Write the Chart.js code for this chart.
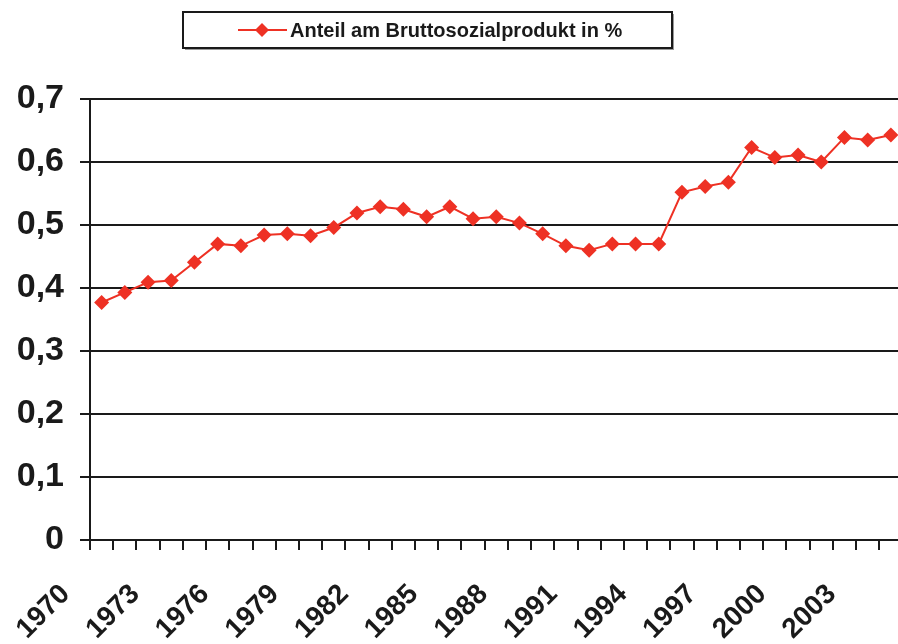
<!DOCTYPE html>
<html>
<head>
<meta charset="utf-8">
<script src="https://cdn.jsdelivr.net/npm/chart.js@4"></script>
<style>
  html, body { margin: 0; padding: 0; background: #fff; overflow: hidden; }
  #chart { display: block; }
</style>
</head>
<body>
<canvas id="chart" width="910" height="644"></canvas>
<script>
// data
const years = [1970, 1971, 1972, 1973, 1974, 1975, 1976, 1977, 1978, 1979,
  1980, 1981, 1982, 1983, 1984, 1985, 1986, 1987, 1988, 1989,
  1990, 1991, 1992, 1993, 1994, 1995, 1996, 1997, 1998, 1999,
  2000, 2001, 2002, 2003, 2004];
const shareValues = [0.377, 0.393, 0.409, 0.412, 0.441, 0.470, 0.467, 0.484, 0.486, 0.483,
  0.496, 0.519, 0.529, 0.525, 0.513, 0.529, 0.510, 0.513, 0.503, 0.486,
  0.467, 0.460, 0.470, 0.470, 0.470, 0.552, 0.561, 0.568, 0.623, 0.607,
  0.611, 0.600, 0.639, 0.635, 0.643];
const seriesLabel = 'Anteil am Bruttosozialprodukt in %';
const labelEvery = 3;

const RED = '#ee3124';
const INK = '#1a1a1a';

// boxed legend like the original
const boxLegend = {
  id: 'boxLegend',
  afterDraw(chart) {
    const ctx = chart.ctx;
    ctx.save();
    ctx.fillStyle = '#9a9a9a';
    ctx.fillRect(185, 14, 489, 36);
    ctx.fillStyle = '#fff';
    ctx.fillRect(183, 12, 489, 36);
    ctx.strokeStyle = INK;
    ctx.lineWidth = 2;
    ctx.strokeRect(183, 12, 489, 36);

    ctx.strokeStyle = RED;
    ctx.lineWidth = 2;
    ctx.beginPath();
    ctx.moveTo(238, 30);
    ctx.lineTo(287, 30);
    ctx.stroke();
    ctx.fillStyle = RED;
    ctx.beginPath();
    ctx.moveTo(262, 23);
    ctx.lineTo(269, 30);
    ctx.lineTo(262, 37);
    ctx.lineTo(255, 30);
    ctx.closePath();
    ctx.fill();

    ctx.fillStyle = INK;
    ctx.font = "bold 20px 'Liberation Sans', Arial, sans-serif";
    ctx.textBaseline = 'alphabetic';
    ctx.textAlign = 'left';
    ctx.fillText(chart.data.datasets[0].label, 290, 37);
    ctx.restore();
  }
};

const ctx = document.getElementById('chart').getContext('2d');
new Chart(ctx, {
  type: 'line',
  data: {
    labels: years,
    datasets: [{
      label: seriesLabel,
      data: shareValues,
      borderColor: RED,
      backgroundColor: RED,
      borderWidth: 2,
      pointStyle: 'rectRot',
      pointRadius: 7.5,
      pointBorderWidth: 0,
      pointBackgroundColor: RED,
      tension: 0
    }]
  },
  options: {
    responsive: false,
    animation: false,
    layout: { padding: { top: 99, right: 0, left: 0, bottom: 0 } },
    plugins: {
      legend: { display: false },
      tooltip: { enabled: false }
    },
    scales: {
      x: {
        offset: true,
        grid: {
          offset: true,
          drawOnChartArea: false,
          drawTicks: true,
          tickLength: 10,
          color: INK,
          lineWidth: 2
        },
        border: { display: true, color: INK, width: 2 },
        ticks: {
          autoSkip: false,
          minRotation: 45,
          maxRotation: 45,
          padding: 28,
          labelOffset: -36,
          color: INK,
          font: { family: "'Liberation Sans', Arial, sans-serif", size: 28, weight: 'bold' },
          callback: (v, i) => ((years[i] - years[0]) % labelEvery === 0 ? String(years[i]) : '')
        },
        afterFit: (scale) => { scale.height = 104; scale.paddingRight = 0; }
      },
      y: {
        min: 0,
        max: 0.7,
        grid: {
          color: INK,
          lineWidth: 2,
          drawTicks: true,
          tickLength: 10
        },
        border: { display: true, color: INK, width: 2 },
        ticks: {
          stepSize: 0.1,
          padding: 16,
          color: INK,
          font: { family: "'Liberation Sans', Arial, sans-serif", size: 34, weight: 'bold' },
          callback: (v) => (v === 0 ? '0' : v.toFixed(1).replace('.', ','))
        },
        afterFit: (scale) => { scale.width = 90; }
      }
    }
  },
  plugins: [boxLegend]
});
</script>
</body>
</html>
